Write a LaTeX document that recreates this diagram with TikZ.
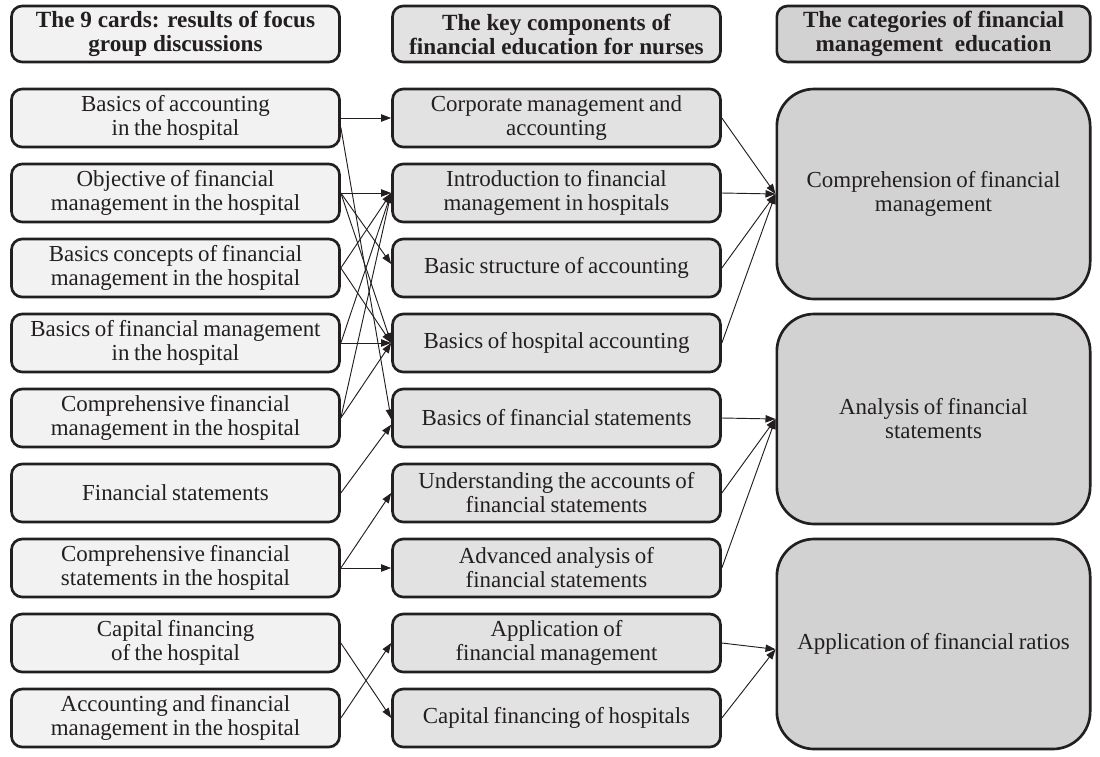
\documentclass[tikz,border=0pt]{standalone}
\usepackage{fontspec}
\setmainfont{Liberation Serif}
\usetikzlibrary{arrows.meta}
\definecolor{cA}{HTML}{F2F2F2}
\definecolor{cB}{HTML}{E2E2E3}
\definecolor{cC}{HTML}{D2D2D3}
\definecolor{ink}{HTML}{231F20}
\newcommand{\tightsp}{\spaceskip=0.2em plus 0.05em\relax}
\begin{document}
\begin{tikzpicture}[x=0.75pt,y=-0.75pt,
 base/.style={draw=ink, line width=2pt, rounded corners=8pt, align=center, inner sep=0pt, text=ink,
   font=\fontsize{17.2}{18}\selectfont\tightsp},
 colA/.style={base, fill=cA, minimum width=246pt, minimum height=43.5pt},
 colB/.style={base, fill=cB, minimum width=246pt, minimum height=43.5pt},
 colC/.style={base, fill=cC, minimum width=235pt, minimum height=157.5pt, rounded corners=28pt},
 head/.style={font=\bfseries\fontsize{17.4}{18}\selectfont, minimum height=42pt},
 conn/.style={draw=ink, line width=0.7pt, -{Triangle[length=7.5pt,width=5.5pt]}}]
\useasboundingbox (0,0) rectangle (1100,757);
% headers
\node[colA, head] (H1) at (175.5,34) {The 9 cards: results of focus\\group discussions};
\node[colB, head] (H2) at (556.5,34) {The key components of\\financial education for nurses};
\node[colC, head, minimum height=42pt, rounded corners=8pt] (H3) at (933.5,34) {The categories of financial\\management\ \ education};
% column 1
\node[colA] (L1) at (175.5,118) {Basics of accounting\\in the hospital};
\node[colA] (L2) at (175.5,193) {Objective of financial\\management in the hospital};
\node[colA] (L3) at (175.5,268) {Basics concepts of financial\\management in the hospital};
\node[colA] (L4) at (175.5,343) {Basics of financial management\\in the hospital};
\node[colA] (L5) at (175.5,418) {Comprehensive financial\\management in the hospital};
\node[colA] (L6) at (175.5,493) {Financial statements};
\node[colA] (L7) at (175.5,568) {Comprehensive financial\\statements in the hospital};
\node[colA] (L8) at (175.5,643) {Capital financing\\of the hospital};
\node[colA] (L9) at (175.5,718) {Accounting and financial\\management in the hospital};
% column 2
\node[colB] (M1) at (556.5,118) {Corporate management and\\accounting};
\node[colB] (M2) at (556.5,193) {Introduction to financial\\management in hospitals};
\node[colB] (M3) at (556.5,268) {Basic structure of accounting};
\node[colB] (M4) at (556.5,343) {Basics of hospital accounting};
\node[colB] (M5) at (556.5,418) {Basics of financial statements};
\node[colB] (M6) at (556.5,493) {Understanding the accounts of\\financial statements};
\node[colB] (M7) at (556.5,568) {Advanced analysis of\\financial statements};
\node[colB] (M8) at (556.5,643) {Application of\\financial management};
\node[colB] (M9) at (556.5,718) {Capital financing of hospitals};
% column 3
\node[colC] (R1) at (933.5,194) {Comprehension of financial\\management};
\node[colC] (R2) at (933.5,419) {Analysis of financial\\statements};
\node[colC] (R3) at (933.5,644) {Application of financial ratios};
% connectors column 1 -> column 2
\draw[conn] (L1.east) -- (M1.west);
\draw[conn] ([yshift=-7pt]L1.east) -- ([yshift=-1pt]M5.west);
\draw[conn] (L2.east) -- (M2.west);
\draw[conn] (L2.east) -- ([yshift=3pt]M3.west);
\draw[conn] (L2.east) -- (M4.west);
\draw[conn] (L3.east) -- (M2.west);
\draw[conn] (L3.east) -- (M4.west);
\draw[conn] (L4.east) -- (M4.west);
\draw[conn] (L4.east) -- (M2.west);
\draw[conn] (L5.east) -- (M2.west);
\draw[conn] (L5.east) -- (M4.west);
\draw[conn] (L6.east) -- ([yshift=-5pt]M5.west);
\draw[conn] (L7.east) -- (M6.west);
\draw[conn] (L7.east) -- (M7.west);
\draw[conn] (L8.east) -- (M9.west);
\draw[conn] (L9.east) -- (M8.west);
% connectors column 2 -> column 3
\draw[conn] (M1.east) -- (R1.west);
\draw[conn] (M2.east) -- (R1.west);
\draw[conn] (M3.east) -- (R1.west);
\draw[conn] (M4.east) -- (R1.west);
\draw[conn] (M5.east) -- (R2.west);
\draw[conn] (M6.east) -- (R2.west);
\draw[conn] (M7.east) -- (R2.west);
\draw[conn] (M8.east) -- ([yshift=-4pt]R3.west);
\draw[conn] (M9.east) -- ([yshift=-4pt]R3.west);
\end{tikzpicture}
\end{document}
